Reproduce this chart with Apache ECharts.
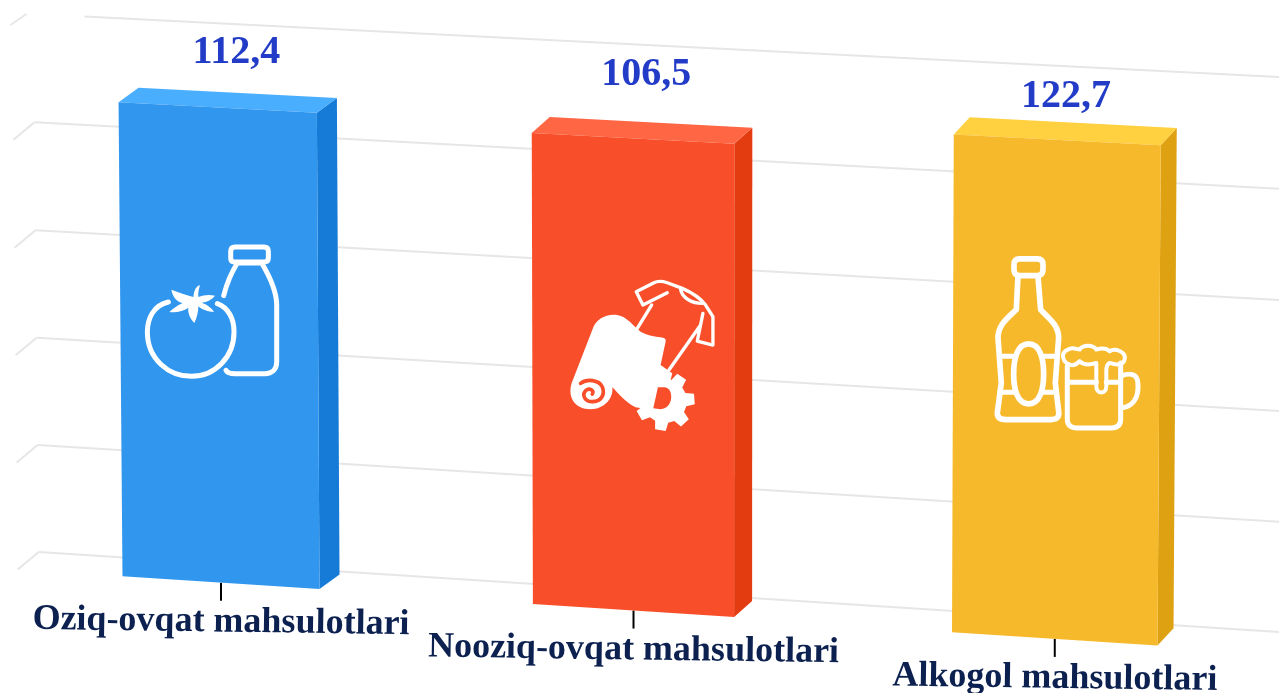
<!DOCTYPE html>
<html>
<head>
<meta charset="utf-8">
<title>Chart</title>
<script src="https://cdn.jsdelivr.net/npm/echarts@6/dist/echarts.min.js"></script>
<style>
  html, body { margin: 0; padding: 0; background: #fff; }
  #chart { width: 1279px; height: 693px; }
</style>
</head>
<body>
<div id="chart"></div>
<script>
// data
const categories = ["Oziq-ovqat mahsulotlari", "Nooziq-ovqat mahsulotlari", "Alkogol mahsulotlari"];
const values = [112.4, 106.5, 122.7];
const gridValues = [-246, -164, -82, 0, 82, 164];

// colours: front, top, side
const frontColors = ["#3096ee", "#f84f2a", "#f7b92c"];
const topColors = ["#4aaeff", "#ff6644", "#ffd040"];
const sideColors = ["#167bd6", "#e23c10", "#dda112"];

// tilt of the chart plane: corners of the back wall on the page
const wall = [[33.4, 14], [1288, 77.5], [1283.5, 632.3], [38.7, 552]];
const labelNudge = [[-1, -40], [-4.5, -47.5], [-7, -26]];
const iconOffset = [[-89, -112], [-74, -105], [-71, -140.5]];

const dx1 = wall[1][0] - wall[2][0], dx2 = wall[3][0] - wall[2][0];
const dy1 = wall[1][1] - wall[2][1], dy2 = wall[3][1] - wall[2][1];
const sx = wall[0][0] - wall[1][0] + wall[2][0] - wall[3][0];
const sy = wall[0][1] - wall[1][1] + wall[2][1] - wall[3][1];
const den = dx1 * dy2 - dx2 * dy1;
const g = (sx * dy2 - dx2 * sy) / den;
const h = (dx1 * sy - sx * dy1) / den;
const a = wall[1][0] - wall[0][0] + g * wall[1][0];
const b = wall[3][0] - wall[0][0] + h * wall[3][0];
const d = wall[1][1] - wall[0][1] + g * wall[1][1];
const e = wall[3][1] - wall[0][1] + h * wall[3][1];

function tilt(u, v) {
  const w = g * u + h * v + 1;
  return [(a * u + b * v + wall[0][0]) / w, (d * u + e * v + wall[0][1]) / w];
}

function gearPath(cx, cy, rOut, rIn, teeth, start) {
  let path = "";
  const step = 2 * Math.PI / teeth;
  for (let i = 0; i < teeth; i++) {
    const t = start + i * step;
    const pts = [
      [rIn, t - step * 0.34], [rOut, t - step * 0.2], [rOut, t + step * 0.2], [rIn, t + step * 0.34]
    ];
    pts.forEach((p, k) => {
      const x = cx + p[0] * Math.cos(p[1]);
      const y = cy + p[0] * Math.sin(p[1]);
      path += (i === 0 && k === 0 ? "M" : "L") + x.toFixed(1) + "," + y.toFixed(1);
    });
  }
  return path + "Z";
}

// icons are drawn at 3x and scaled down
const stroke = (d, w) => ({ type: "path", shape: { pathData: d }, style: { fill: null, stroke: "#fff", lineWidth: w || 15, lineCap: "round", lineJoin: "round" } });
const solid = (d, c) => ({ type: "path", shape: { pathData: d }, style: { fill: c || "#fff" } });

const icons = [
  () => [
    stroke("M115,205 C70,215 52,255 52,295 C52,375 115,428 185,428 C255,428 312,370 312,295 C312,255 295,222 262,210"),
    solid("M190,190 C192,170 197,158 210,154 C205,170 204,180 205,190 C220,183 240,182 255,186 C245,198 232,205 215,207 C230,212 245,222 252,235 C235,235 215,228 205,218 C205,235 200,255 193,268 C180,255 172,235 175,222 C160,232 140,238 118,235 C130,225 140,215 158,208 C140,205 128,190 124,168 C145,175 170,185 190,190 Z"),
    stroke("M281,186 C290,150 305,115 322,88 L395,88 C420,130 440,180 440,215 L440,385 C440,408 425,420 405,420 L315,420 C300,420 292,418 288,410"),
    stroke("M315,40 L402,40 Q415,40 415,53 L415,73 Q415,85 402,85 L313,85 Q302,85 302,73 L302,53 Q302,40 315,40 Z")
  ],
  () => [
    stroke("M232,65 L285,38 C295,33 310,33 325,38 L370,55 C400,68 425,85 440,105 L462,140 L462,225 L415,213 L432,130 M232,65 L252,105 L325,68 M278,105 L235,175 M425,165 L330,300 M365,58 C370,85 400,100 430,100", 10),
    solid("M100,180 C110,145 145,130 175,135 C205,140 225,170 245,185 C265,197 295,200 312,203 Q322,205 320,215 L305,285 L340,310 L330,350 L280,420 L230,412 C195,395 175,365 160,352 C165,385 135,418 95,418 C50,418 25,385 38,340 Z"),
    solid(gearPath(318, 393, 90, 66, 7, -4 * Math.PI / 180)),
    solid("M297,352 L318,352 C345,355 345,415 305,418 L283,415 Z", frontColors[1]),
    { type: "path", shape: { pathData: "M100,372 C108,362 92,352 80,362 C68,375 78,395 100,395 C125,395 140,375 130,350 C120,330 85,325 65,340" }, style: { fill: null, stroke: frontColors[1], lineWidth: 11, lineCap: "round" } }
  ],
  () => [
    stroke("M100,80 L95,180 C70,205 40,225 40,265 L50,400 L38,490 C38,505 50,510 65,510 L200,510 C218,510 225,500 222,485 L212,400 L222,265 C222,225 190,205 168,180 L160,80", 17),
    stroke("M105,28 L158,28 Q175,28 175,45 L175,60 Q175,78 158,78 L105,78 Q88,78 88,60 L88,45 Q88,28 105,28 Z", 17),
    stroke("M45,320 L85,320 M175,320 L215,320 M45,428 L90,428 M170,428 L215,428"),
    stroke("M132,283 C165,283 177,325 177,373 C177,421 165,463 132,463 C99,463 87,421 87,373 C87,325 99,283 132,283 Z", 17),
    stroke("M255,345 C235,340 225,310 250,300 C265,290 275,300 285,300 C295,285 325,285 335,300 C350,295 365,295 375,305 C390,295 425,305 420,330 C415,350 390,345 375,340 C365,345 365,360 365,365 L365,410 C365,435 335,435 335,410 L335,340 C320,345 300,350 285,335 C275,345 265,350 255,345 Z", 12),
    stroke("M248,350 L248,510 C248,528 260,535 275,535 L380,535 C400,535 408,525 408,510 L408,340 M248,398 L335,398 M365,398 L408,398"),
    stroke("M412,378 C440,368 460,375 460,405 C462,445 445,470 412,475")
  ]
];

const myChart = echarts.init(document.getElementById("chart"), null, { renderer: "canvas" });

function renderGrid(params, api) {
  const sys = params.coordSys;
  const val = api.value(0);
  const v = (api.coord([0, val])[1] - sys.y) / sys.height;
  const isTop = val === gridValues[gridValues.length - 1];
  const from = tilt(isTop ? 0.042 : 0, v);
  const to = tilt(1.02, v);
  const corner = tilt(0, v);
  const lineStyle = { stroke: "#e6e6e6", lineWidth: 2, fill: null };
  return {
    type: "group",
    children: [
      { type: "line", shape: { x1: from[0], y1: from[1], x2: to[0], y2: to[1] }, style: lineStyle },
      { type: "line", shape: { x1: corner[0] - (isTop ? 7 : 0), y1: corner[1], x2: corner[0] - (isTop ? 23 : 21), y2: corner[1] + (isTop ? 11 : 17.5) }, style: lineStyle }
    ]
  };
}

function renderBar(params, api) {
  const sys = params.coordSys;
  const i = params.dataIndex;
  const val = api.value(1);
  const center = api.coord([i, val]);
  const half = api.size([1, 0])[0] * 0.485 / 2;
  const u0 = (center[0] - half - sys.x) / sys.width;
  const u1 = (center[0] + half - sys.x) / sys.width;
  const uc = (center[0] - sys.x) / sys.width;
  const vTop = (center[1] - sys.y) / sys.height;
  const vBase = 1;
  const drop = 3;
  const depthX = -21 + 6 * uc;
  const depthY = 14 + 4 * uc;

  const backTL = tilt(u0, vTop), backTR = tilt(u1, vTop);
  const backBR = tilt(u1, vBase); backBR[1] += drop;
  const backBL = tilt(u0, vBase); backBL[1] += drop;
  const off = p => [p[0] + depthX, p[1] + depthY];
  const frontTL = off(backTL), frontTR = off(backTR), frontBR = off(backBR), frontBL = off(backBL);

  const poly = (points, fill) => ({ type: "polygon", shape: { points: points }, style: { fill: fill } });

  const topMid = tilt(uc, vTop);
  const floorX = (frontBL[0] + frontBR[0]) / 2;
  const floorY = (frontBL[1] + frontBR[1]) / 2;
  const midX = (frontTL[0] + frontBR[0]) / 2;
  const midY = (frontTL[1] + frontBR[1]) / 2;

  return {
    type: "group",
    children: [
      { type: "line", shape: { x1: floorX, y1: floorY, x2: floorX, y2: floorY + 18 }, style: { stroke: "#000", lineWidth: 2 } },
      poly([frontTR, backTR, backBR, frontBR], sideColors[i]),
      poly([frontTL, backTL, backTR, frontTR], topColors[i]),
      poly([frontTL, frontTR, frontBR, frontBL], frontColors[i]),
      {
        type: "group",
        x: midX + iconOffset[i][0],
        y: midY + iconOffset[i][1],
        scaleX: 1 / 3,
        scaleY: 1 / 3,
        children: icons[i]()
      },
      {
        type: "text",
        x: topMid[0] + labelNudge[i][0],
        y: topMid[1] + labelNudge[i][1],
        style: {
          text: String(val).replace(".", ","),
          font: "bold 40px 'Liberation Serif'",
          fill: "#233cc8",
          align: "center",
          verticalAlign: "middle"
        }
      },
      {
        type: "text",
        x: floorX,
        y: floorY + 39.5,
        rotation: -0.014,
        style: {
          text: categories[i],
          font: "bold 36px 'Liberation Serif'",
          fill: "#0d2150",
          align: "center",
          verticalAlign: "middle"
        }
      }
    ]
  };
}

myChart.setOption({
  animation: false,
  backgroundColor: "#fff",
  grid: { left: 0, right: 0, top: 0, bottom: 0 },
  xAxis: { type: "category", data: categories, show: false },
  yAxis: { type: "value", min: gridValues[0], max: gridValues[gridValues.length - 1], interval: 82, show: false },
  series: [
    {
      type: "custom",
      silent: true,
      clip: false,
      z: 1,
      data: gridValues.map(v => [v]),
      encode: { y: 0 },
      renderItem: renderGrid
    },
    {
      type: "custom",
      silent: true,
      clip: false,
      z: 2,
      data: values.map((v, i) => [i, v]),
      encode: { x: 0, y: 1 },
      renderItem: renderBar
    }
  ]
});

window.addEventListener("resize", () => {
  myChart.resize();
});
</script>
</body>
</html>
